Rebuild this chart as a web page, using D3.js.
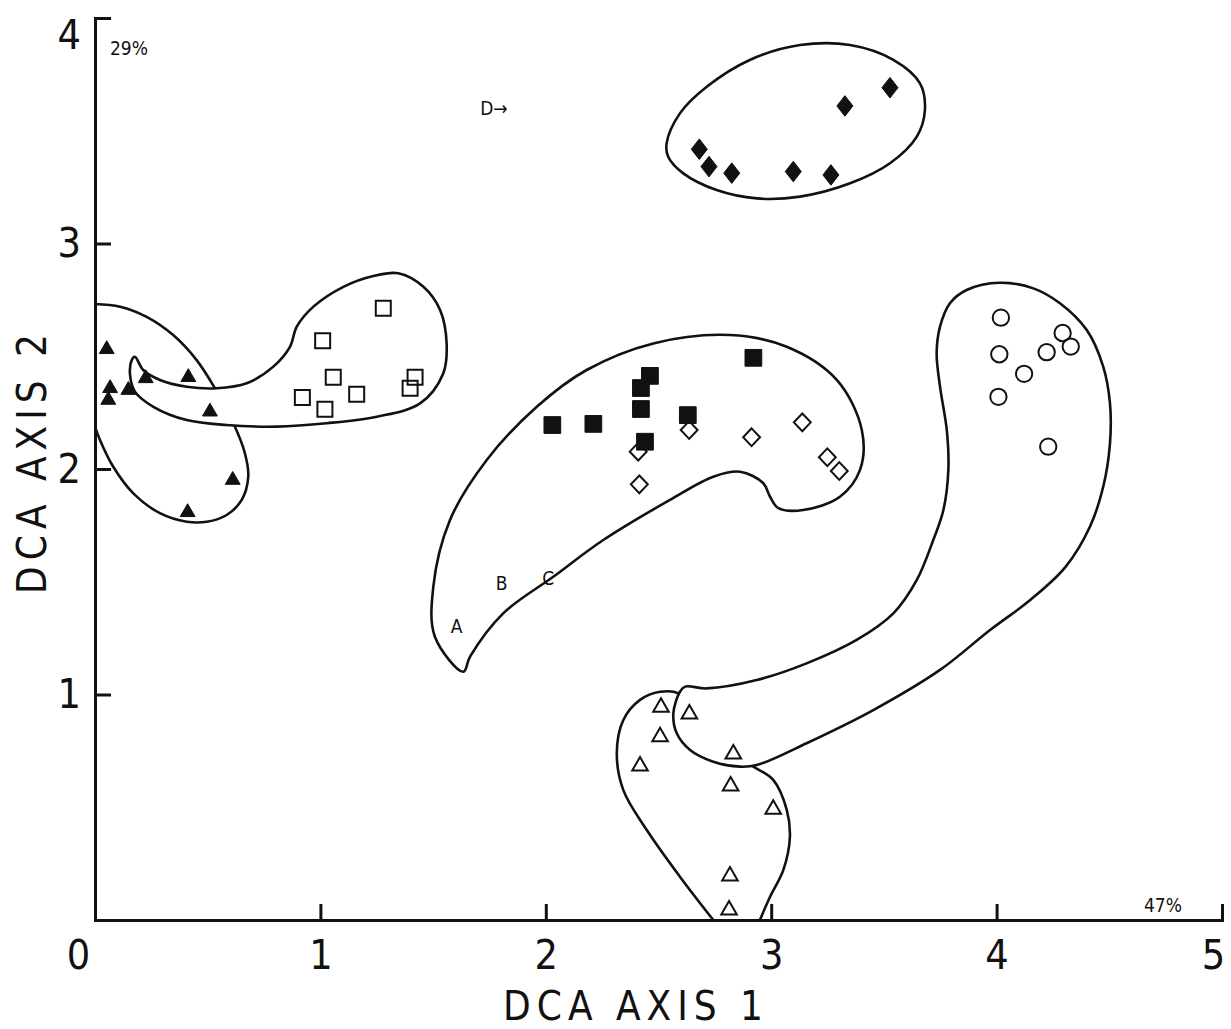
<!DOCTYPE html>
<html>
<head>
<meta charset="utf-8">
<script src="https://cdn.jsdelivr.net/npm/d3@7"></script>
<style>
  body { margin: 0; background: #fff; }
  svg { display: block; }
  .axis path, .axis line { stroke: #111; stroke-width: 3; }
  .axis text { font-family: "DejaVu Sans Condensed", "DejaVu Sans", sans-serif; font-size: 41px; fill: #111; }
  .lbl { font-family: "DejaVu Sans Condensed", "DejaVu Sans", sans-serif; fill: #111; }
</style>
</head>
<body>
<div id="chart"></div>
<script>
// tick values
const xTicks = [0, 1, 2, 3, 4, 5];
const yTicks = [1, 2, 3, 4];

// sample points (DCA axis 1, DCA axis 2)
const filledTriangles = [[0.052,2.531],[0.067,2.358],[0.059,2.306],[0.148,2.350],[0.225,2.402],[0.414,2.407],[0.510,2.254],[0.611,1.951],[0.411,1.808]];
const openSquares = [[1.279,2.713],[1.010,2.569],[1.057,2.407],[0.920,2.317],[1.020,2.265],[1.161,2.331],[1.420,2.407],[1.398,2.358]];
const openDiamonds = [[2.410,2.077],[2.415,1.932],[2.636,2.173],[2.913,2.141],[3.138,2.207],[3.249,2.052],[3.302,1.991]];
const filledSquares = [[2.029,2.195],[2.211,2.200],[2.462,2.413],[2.422,2.359],[2.422,2.266],[2.440,2.121],[2.630,2.239],[2.921,2.493]];
const filledDiamonds = [[2.681,3.418],[2.724,3.341],[2.825,3.312],[3.098,3.319],[3.265,3.304],[3.327,3.610],[3.527,3.691]];
const openCircles = [[4.019,2.671],[4.012,2.509],[4.122,2.422],[4.008,2.320],[4.222,2.518],[4.293,2.603],[4.329,2.543],[4.229,2.099]];
const openTriangles = [[2.511,0.943],[2.637,0.914],[2.507,0.813],[2.418,0.683],[2.832,0.736],[2.820,0.594],[3.009,0.491],[2.817,0.195],[2.813,0.044]];

// group outlines (hand drawn envelopes)
const outlineA = [[0,2.732],[0.111,2.720],[0.229,2.675],[0.347,2.594],[0.451,2.483],[0.532,2.358],[0.614,2.203],[0.665,2.070],[0.680,1.966],[0.651,1.863],[0.584,1.796],[0.496,1.766],[0.407,1.766],[0.288,1.804],[0.170,1.892],[0.081,2.010],[0.022,2.129],[0,2.188]];
const outlineSquares = [[0.177,2.498],[0.214,2.439],[0.288,2.395],[0.407,2.365],[0.540,2.358],[0.673,2.380],[0.791,2.454],[0.865,2.542],[0.895,2.631],[0.969,2.720],[1.102,2.808],[1.235,2.856],[1.346,2.868],[1.457,2.808],[1.531,2.705],[1.560,2.557],[1.545,2.424],[1.442,2.291],[1.250,2.232],[1.028,2.203],[0.806,2.188],[0.584,2.195],[0.407,2.217],[0.259,2.276],[0.177,2.343],[0.155,2.424],[0.163,2.483]];
const outlineCrescent = [[1.634,1.101],[1.508,1.256],[1.501,1.478],[1.575,1.774],[1.738,2.040],[1.960,2.276],[2.181,2.439],[2.477,2.557],[2.817,2.594],[3.069,2.542],[3.291,2.395],[3.402,2.173],[3.394,1.996],[3.305,1.877],[3.142,1.818],[3.032,1.826],[2.995,1.877],[2.965,1.937],[2.862,1.988],[2.743,1.966],[2.551,1.863],[2.255,1.685],[2.033,1.522],[1.811,1.360],[1.664,1.168]];
const outlineD = [[2.536,3.444],[2.595,3.577],[2.714,3.695],[2.905,3.814],[3.128,3.880],[3.350,3.880],[3.542,3.814],[3.660,3.710],[3.682,3.592],[3.646,3.474],[3.527,3.356],[3.350,3.267],[3.128,3.208],[2.936,3.200],[2.758,3.237],[2.610,3.311],[2.543,3.385]];
const outlineTriangles = [[2.743,0],[2.595,0.192],[2.448,0.399],[2.344,0.576],[2.315,0.739],[2.344,0.887],[2.418,0.976],[2.507,1.012],[2.588,1.005],[2.684,0.887],[2.790,0.760],[2.921,0.680],[3.009,0.621],[3.069,0.488],[3.083,0.369],[3.054,0.222],[2.995,0.103],[2.950,0]];
const outlineCircles = [[4.015,2.826],[4.163,2.801],[4.281,2.735],[4.400,2.616],[4.473,2.454],[4.503,2.291],[4.503,2.114],[4.473,1.921],[4.414,1.744],[4.305,1.565],[4.149,1.419],[3.971,1.286],[3.749,1.109],[3.453,0.931],[3.157,0.784],[2.936,0.687],[2.862,0.680],[2.743,0.702],[2.640,0.754],[2.581,0.828],[2.566,0.917],[2.595,1.012],[2.618,1.035],[2.714,1.027],[2.936,1.064],[3.157,1.138],[3.379,1.242],[3.542,1.360],[3.646,1.508],[3.719,1.685],[3.764,1.818],[3.786,1.996],[3.779,2.173],[3.749,2.365],[3.734,2.513],[3.749,2.631],[3.793,2.735],[3.867,2.794]];

// letters on the plot
const letters = [["A",1.604,1.301],["B",1.804,1.493],["C",2.011,1.515],["D\u2192",1.77,3.60]];

const width = 1231, height = 1029;
const x = d3.scaleLinear().domain([0, 5]).range([95, 1222]);
const y = d3.scaleLinear().domain([0, 4]).range([920, 18]);

const svg = d3.select("#chart").append("svg")
  .attr("width", width).attr("height", height);

const closed = d3.line().x(d => x(d[0])).y(d => y(d[1])).curve(d3.curveCatmullRomClosed.alpha(0.5));
const open = d3.line().x(d => x(d[0])).y(d => y(d[1])).curve(d3.curveCatmullRom.alpha(0.5));

const hulls = svg.append("g").attr("stroke", "#111").attr("stroke-width", 2.6);
hulls.append("path").attr("d", open(outlineA)).attr("fill", "none");
hulls.append("path").attr("d", closed(outlineSquares)).attr("fill", "#fff");
hulls.append("path").attr("d", closed(outlineCrescent)).attr("fill", "none");
hulls.append("path").attr("d", closed(outlineD)).attr("fill", "none");
hulls.append("path").attr("d", open(outlineTriangles)).attr("fill", "none");
hulls.append("path").attr("d", closed(outlineCircles)).attr("fill", "#fff");

// axes, ticks pointing inward
svg.append("g").attr("class", "axis")
  .attr("transform", `translate(0,${y(0)})`)
  .call(d3.axisBottom(x).tickValues(xTicks).tickSizeInner(-16).tickSizeOuter(0).tickPadding(20).tickFormat(d3.format("d")))
  .call(g => g.selectAll(".tick text").attr("dx", d => d === 0 ? -17 : d === 5 ? -9 : 0));
svg.append("g").attr("class", "axis")
  .attr("transform", `translate(${x(0)},0)`)
  .call(d3.axisLeft(y).tickValues(yTicks).tickSizeInner(-16).tickSizeOuter(0).tickPadding(14).tickFormat(d3.format("d")))
  .call(g => g.selectAll(".tick text").attr("dy", d => d === 4 ? "0.75em" : "0.32em"));
svg.selectAll(".axis .domain").attr("stroke-linecap", "square");
svg.selectAll(".axis text").attr("font-family", null).attr("font-size", null);

// custom diamond: ratio = half width / half height
const diamond = ratio => ({
  draw(context, size) {
    const h = Math.sqrt(size / (2 * ratio)), w = h * ratio;
    context.moveTo(0, -h); context.lineTo(w, 0); context.lineTo(0, h); context.lineTo(-w, 0); context.closePath();
  }
});

function drawPoints(data, type, size, filled) {
  svg.append("g").selectAll("path")
    .data(data)
    .enter()
    .append("path")
    .attr("transform", d => `translate(${x(d[0])},${y(d[1])})`)
    .attr("d", d3.symbol().type(type).size(size))
    .attr("fill", filled ? "#111" : "none")
    .attr("stroke", "#111")
    .attr("stroke-width", filled ? 1 : 2);
}

drawPoints(filledTriangles, d3.symbolTriangle, 95, true);
drawPoints(openSquares, d3.symbolSquare, 225, false);
drawPoints(openDiamonds, diamond(0.95), 150, false);
drawPoints(filledSquares, d3.symbolSquare, 280, true);
drawPoints(filledDiamonds, diamond(0.78), 165, true);
drawPoints(openCircles, d3.symbolCircle, 210, false);
drawPoints(openTriangles, d3.symbolTriangle, 105, false);

svg.append("g").selectAll("text")
  .data(letters)
  .enter()
  .append("text")
  .attr("class", "lbl")
  .attr("x", d => x(d[1]))
  .attr("y", d => y(d[2]))
  .attr("dy", "0.35em")
  .attr("text-anchor", "middle")
  .attr("font-size", 19)
  .text(d => d[0]);

// explained variance
svg.append("text").attr("class", "lbl").attr("x", x(0) + 15).attr("y", y(4) + 37)
  .attr("font-size", 19).text("29%");
svg.append("text").attr("class", "lbl").attr("x", x(5) - 40).attr("y", y(0) - 8)
  .attr("text-anchor", "end").attr("font-size", 19).text("47%");

// axis titles
svg.append("text").attr("class", "lbl")
  .attr("x", 636).attr("y", 1020)
  .attr("text-anchor", "middle").attr("font-size", 40).attr("letter-spacing", 6)
  .text("DCA AXIS 1");
svg.append("text").attr("class", "lbl")
  .attr("transform", `translate(46,${y(2) - 8}) rotate(-90)`)
  .attr("text-anchor", "middle").attr("font-size", 40).attr("letter-spacing", 6)
  .text("DCA AXIS 2");
</script>
</body>
</html>
